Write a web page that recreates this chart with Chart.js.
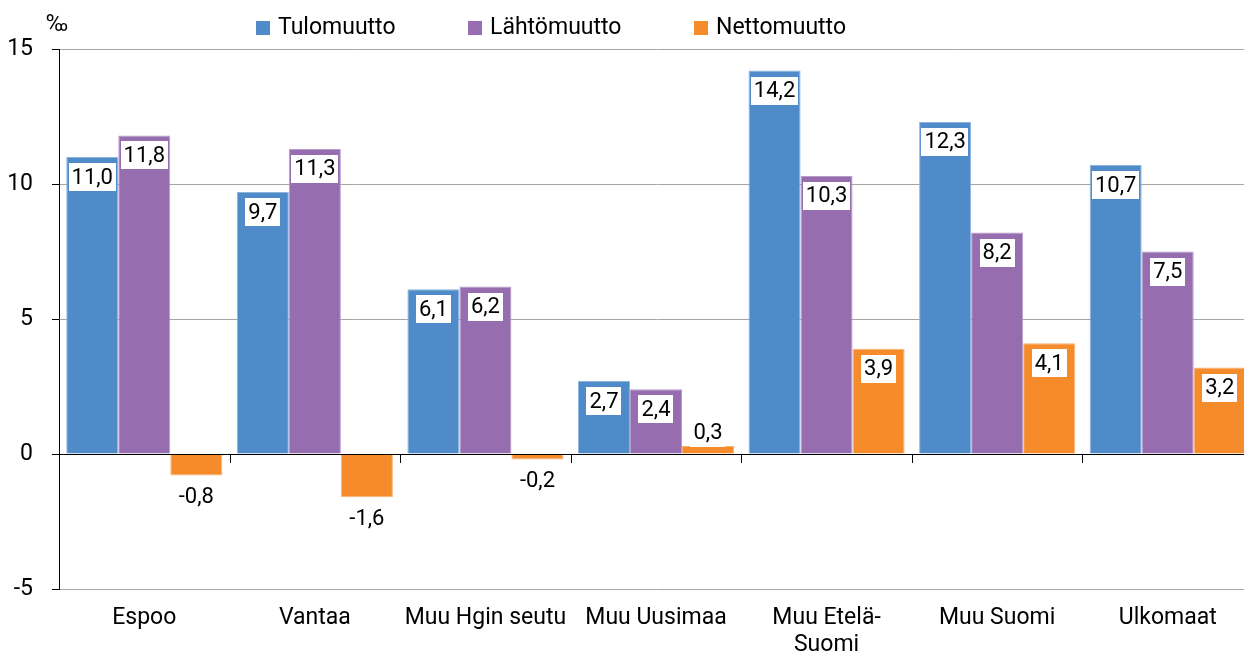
<!DOCTYPE html>
<html>
<head>
<meta charset="utf-8">
<script src="https://cdn.jsdelivr.net/npm/chart.js@4/dist/chart.umd.min.js"></script>
<style>
html,body{margin:0;padding:0;background:#fff;overflow:hidden;width:1244px;height:652px;}
#wrap{position:absolute;left:0;top:0;width:1253px;height:652px;}
</style>
</head>
<body>
<div id="wrap"><canvas id="c" width="1253" height="652"></canvas></div>
<script>
const categories = ['Espoo', 'Vantaa', 'Muu Hgin seutu', 'Muu Uusimaa', ['Muu Etelä-', 'Suomi'], 'Muu Suomi', 'Ulkomaat'];
const seriesNames = ['Tulomuutto', 'Lähtömuutto', 'Nettomuutto'];
const tulomuutto = [11.0, 9.7, 6.1, 2.7, 14.2, 12.3, 10.7];
const lahtomuutto = [11.8, 11.3, 6.2, 2.4, 10.3, 8.2, 7.5];
const nettomuutto = [-0.8, -1.6, -0.2, 0.3, 3.9, 4.1, 3.2];
const yTicks = [-5, 0, 5, 10, 15];
const unitLabel = '‰';

const FONT = 'Roboto, "Liberation Sans", Arial, sans-serif';
const FS = 23;
const LFS = 22;
const colors = ['#508BC9', '#966EB0', '#F68B2B'];
const borders = ['#8DB3DF', '#B79CCB', '#F9B171'];

function fmt(v) { return v.toFixed(1).replace('.', ','); }

const overlay = {
  id: 'overlay',
  afterDatasetsDraw(chart) {
    const ctx = chart.ctx;
    const x = chart.scales.x, y = chart.scales.y;
    const zeroY = y.getPixelForValue(0);
    ctx.save();
    // zero line over bars
    ctx.strokeStyle = '#000';
    ctx.lineWidth = 1;
    ctx.beginPath();
    ctx.moveTo(chart.chartArea.left, Math.round(zeroY) + 0.5);
    ctx.lineTo(chart.chartArea.right, Math.round(zeroY) + 0.5);
    ctx.stroke();
    // category boundary ticks
    for (let i = 1; i < categories.length; i++) {
      const bx = Math.round((x.getPixelForValue(i - 1) + x.getPixelForValue(i)) / 2) + 0.5;
      ctx.beginPath();
      ctx.moveTo(bx, Math.round(zeroY));
      ctx.lineTo(bx, Math.round(zeroY) + 9);
      ctx.stroke();
    }
    // data labels
    ctx.font = LFS + 'px ' + FONT;
    ctx.textAlign = 'center';
    ctx.textBaseline = 'middle';
    chart.data.datasets.forEach((ds, di) => {
      const meta = chart.getDatasetMeta(di);
      meta.data.forEach((el, i) => {
        const v = ds.data[i];
        const t = fmt(v);
        const tw = ctx.measureText(t).width;
        const bw = tw + 6, bh = 28;
        let cy;
        if (v >= 0) {
          if (el.base - el.y >= 36) cy = el.y + 20;
          else cy = el.y - 13;
        } else {
          cy = el.y + 21;
        }
        ctx.fillStyle = '#fff';
        ctx.fillRect(Math.round(el.x - bw / 2), Math.round(cy - bh / 2), Math.round(bw), bh);
        ctx.fillStyle = '#000';
        ctx.fillText(t, el.x, cy + 1);
      });
    });
    // legend
    const legX = [278, 490, 716];
    ctx.font = FS + 'px ' + FONT;
    ctx.textAlign = 'left';
    ctx.textBaseline = 'alphabetic';
    seriesNames.forEach((n, i) => {
      ctx.fillStyle = colors[i];
      ctx.fillRect(legX[i] - 22, 21, 14, 14);
      ctx.fillStyle = '#000';
      ctx.fillText(n, legX[i], 34);
    });
    // unit label
    ctx.font = '23px ' + FONT;
    ctx.fillText(unitLabel, 46, 31);
    ctx.restore();
  }
};

new Chart(document.getElementById('c'), {
  type: 'bar',
  data: {
    labels: categories,
    datasets: [
      { label: seriesNames[0], data: tulomuutto, backgroundColor: colors[0], borderColor: borders[0], borderWidth: 1 },
      { label: seriesNames[1], data: lahtomuutto, backgroundColor: colors[1], borderColor: borders[1], borderWidth: 1 },
      { label: seriesNames[2], data: nettomuutto, backgroundColor: colors[2], borderColor: borders[2], borderWidth: 1 }
    ]
  },
  options: {
    responsive: false,
    animation: false,
    devicePixelRatio: 1,
    layout: { padding: { top: 49, left: 0, right: 0, bottom: 0 } },
    datasets: { bar: { categoryPercentage: 0.915, barPercentage: 1.0, borderSkipped: 'start' } },
    plugins: { legend: { display: false }, tooltip: { enabled: false } },
    scales: {
      x: {
        grid: { display: false },
        border: { display: false },
        ticks: { font: { family: FONT, size: FS }, color: '#000', autoSkip: false, maxRotation: 0, padding: 7 },
        afterFit(s) { s.height = 63; }
      },
      y: {
        min: -5, max: 15,
        afterBuildTicks(s) { s.ticks = yTicks.map(v => ({ value: v })); },
        grid: {
          color: c => (c.tick && c.tick.value === 0) ? '#000' : '#A6A6A6',
          tickColor: '#000',
          tickLength: 7,
          lineWidth: 1
        },
        border: { display: true, color: '#000', width: 1 },
        ticks: { font: { family: FONT, size: FS }, color: '#000', padding: 19, callback: v => String(v) },
        afterFit(s) { s.width = 59; }
      }
    }
  },
  plugins: [overlay]
});
</script>
</body>
</html>
